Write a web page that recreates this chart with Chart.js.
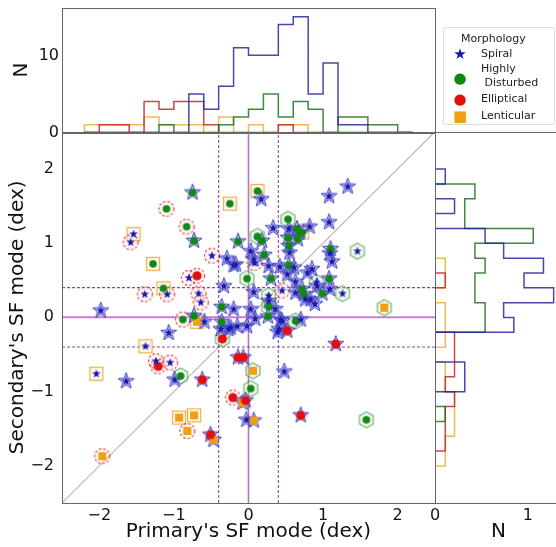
<!DOCTYPE html>
<html>
<head>
<meta charset="utf-8">
<script src="https://cdn.jsdelivr.net/npm/chart.js@4.4.1/dist/chart.umd.min.js"></script>
<style>
  html, body { margin: 0; padding: 0; width: 556px; height: 547px; overflow: hidden; background: #fff; }
  body { position: relative; font-family: "DejaVu Sans", sans-serif; }
  canvas { position: absolute; }
  #legend { position: absolute; left: 443px; top: 27px; width: 110px; height: 96px; border: 1px solid #ddd;
            border-radius: 3px; background: #fff; font-size: 11px; line-height: 14px; color: #222; }
  #legend div { position: absolute; white-space: nowrap; }
  .sym { left: 8px; width: 16px; text-align: center; font-size: 15px; line-height: 18px; }
</style>
</head>
<body>
<canvas id="topHist" width="446" height="150" style="left:0px;top:-5px"></canvas>
<canvas id="main" width="446" height="433" style="left:0px;top:114px"></canvas>
<canvas id="rightHist" width="135" height="425" style="left:427px;top:122px"></canvas>
<div id="legend">
  <div style="left:17px;top:4px">Morphology</div>
  <div class="sym" style="top:17px;color:#1a1ab0">★</div><div style="left:37px;top:19px">Spiral</div>
  <div class="sym" style="top:41px;color:#118811">●</div><div style="left:37px;top:34px">Highly</div>
  <div style="left:37px;top:48px">&nbsp;Disturbed</div>
  <div class="sym" style="top:62px;color:#e01010">●</div><div style="left:37px;top:64px">Elliptical</div>
  <div class="sym" style="top:79px;color:#f0a010">■</div><div style="left:37px;top:81px">Lenticular</div>
</div>
<script>
// primary / secondary star-formation modes (dex) and morphologies
// S = spiral, H = highly disturbed, E = elliptical, L = lenticular
const primarySF = [
  -0.75, -1.10, -0.25, -1.54, -1.58, -0.83, -0.73, -0.14, -1.28, -0.49,
  -0.29, -0.20, -0.02, -0.80, -0.69, -0.33, -1.14, -1.39, -1.09, -0.67,
  -0.64, -1.98, -0.36, -0.20, -0.73, -0.88, -0.69, -0.59, -0.36, 0.12,
  0.17, 1.33, 1.08, 0.53, 0.33, 0.54, 0.65, 0.72, 0.82, 1.08,
  0.12, 0.18, 0.53, 0.66, 0.54, 0.55, 1.10, 1.09, 1.12, 1.46,
  0.03, 0.21, 0.07, 0.08, 0.27, 0.42, 0.54, 0.61, 0.30, 0.63,
  0.79, 0.85, 0.91, 0.92, 1.08, 1.09, 1.26, 0.72, 0.74, 0.99,
  0.63, 0.45, 0.07, 0.27, 0.83, 0.89, 0.76, 0.27, 0.36, 0.26,
  0.43, 0.63, 0.70, 1.82, -0.02, 0.03, 0.09, 0.45, 0.52, 0.27,
  -0.24, -0.15, 0.41, 0.52, -1.07, -1.38, -1.24, -1.21, -1.05, -2.04,
  -1.64, -0.91, -0.99, -0.62, -0.35, -0.93, -0.73, -0.82, -0.51, -0.47,
  -1.96, -0.21, -0.04, -0.08, -0.14, -0.07, -0.03, 0.07, 0.03, 0.39,
  1.17, 0.48, 0.06, 0.70, 1.58, -0.37, -0.27, 0.68, -0.17
];
const secondarySF = [
  1.68, 1.46, 1.53, 1.12, 1.01, 1.22, 1.03, 1.02, 0.72, 0.83,
  0.79, 0.70, 0.52, 0.53, 0.56, 0.42, 0.39, 0.31, 0.31, 0.32,
  0.20, 0.09, 0.14, 0.11, 0.02, -0.03, -0.06, -0.06, -0.06, 1.70,
  1.59, 1.76, 1.63, 1.32, 1.20, 1.19, 1.19, 1.14, 1.22, 1.28,
  1.09, 1.03, 1.07, 1.05, 0.96, 0.87, 0.92, 0.86, 0.75, 0.89,
  0.89, 0.84, 0.78, 0.73, 0.69, 0.68, 0.70, 0.67, 0.52, 0.48,
  0.60, 0.65, 0.47, 0.42, 0.52, 0.38, 0.32, 0.38, 0.31, 0.32,
  0.33, 0.36, 0.34, 0.29, 0.24, 0.18, 0.24, 0.14, 0.11, 0.01,
  -0.03, -0.05, -0.03, 0.13, -0.12, 0.11, -0.02, -0.05, 0.58, 0.22,
  -0.14, -0.12, -0.16, -0.18, -0.21, -0.39, -0.59, -0.66, -0.61, -0.76,
  -0.86, -0.79, -0.84, -0.84, -0.29, -1.35, -1.32, -1.53, -1.58, -1.65,
  -1.87, -1.08, -1.12, -1.15, -0.54, -0.54, -1.38, -1.39, -0.96, -0.20,
  -0.36, -0.73, -0.72, -1.32, -1.38, -0.16, -0.16, 1.14, 0.71
];
const primaryMorph = [
  'S','E','L','L','E','E','S','S','L','E',
  'S','S','H','E','E','S','L','E','E','E',
  'E','S','S','S','S','E','L','S','S','L',
  'S','S','S','H','S','S','S','L','S','S',
  'H','S','S','S','S','S','S','S','S','H',
  'S','S','S','E','S','S','S','S','S','S',
  'S','S','H','S','S','S','H','S','S','S',
  'S','E','S','H','S','S','S','H','S','S',
  'S','H','S','H','S','S','S','S','S','S',
  'S','S','S','S','S','L','E','E','E','L',
  'S','H','S','S','H','L','L','E','S','S',
  'E','E','S','S','S','S','S','S','H','S',
  'S','S','H','S','H','S','S','S','S'
];
const secondaryMorph = [
  'H','H','H','S','S','H','H','H','H','S',
  'S','S','H','S','E','S','H','S','S','S',
  'S','S','H','S','H','H','L','S','H','H',
  'S','S','S','H','S','S','H','H','S','S',
  'H','H','H','H','H','S','H','S','S','S',
  'S','H','S','S','S','S','H','S','H','S',
  'S','S','S','S','H','S','S','H','H','H',
  'S','S','S','S','S','S','S','H','S','H',
  'S','H','S','L','S','S','S','S','S','S',
  'S','S','S','E','S','S','S','E','S','S',
  'S','H','S','E','E','L','L','L','E','L',
  'L','E','E','L','E','E','S','L','H','S',
  'E','S','L','E','H','S','S','H','S'
];

// reference lines (dex)
const refLines = [-0.4, 0, 0.4];
const axisRange = [-2.5, 2.5];
const sfTicks = [-2, -1, 0, 1, 2];

// top histogram: primary SF mode, counts per 0.2 dex bin
const topEdges = [-2.2, -2.0, -1.8, -1.6, -1.4, -1.2, -1.0, -0.8, -0.6, -0.4, -0.2, 0.0,
                  0.2, 0.4, 0.6, 0.8, 1.0, 1.2, 1.4, 1.6, 1.8, 2.0, 2.2];
const topSpiral     = [0, 0, 0, 0, 0, 0, 0, 5, 3, 6, 11, 10, 10, 14, 15, 5, 9, 1, 1, 0, 0, 0];
const topDisturbed  = [0, 0, 0, 0, 0, 1, 0, 0, 0, 1, 2, 3, 5, 2, 4, 3, 0, 2, 2, 1, 1, 0];
const topElliptical = [0, 1, 1, 0, 4, 3, 4, 4, 1, 0, 0, 0, 0, 1, 0, 0, 0, 0, 0, 0, 0, 0];
const topLenticular = [1, 1, 1, 1, 2, 1, 1, 1, 0, 2, 0, 1, 0, 1, 1, 0, 0, 0, 0, 0, 0, 0];
const topTicks = [0, 10];

// right histogram: secondary SF mode, normalised N per 0.2 dex bin
const rightEdges = [-2.0, -1.8, -1.6, -1.4, -1.2, -1.0, -0.8, -0.6, -0.4, -0.2, 0.0,
                    0.2, 0.4, 0.6, 0.8, 1.0, 1.2, 1.4, 1.6, 1.8, 2.0];
const rightSpiral     = [0, 0, 0, 0, 0, 0.32, 0.32, 0, 0, 0.85, 0.74, 1.28, 0.96, 1.17, 0.74, 0.54, 0, 0.21, 0, 0.11];
const rightDisturbed  = [0, 0, 0, 0.11, 0, 0, 0, 0, 0, 0.54, 0.54, 0.43, 0.43, 0.54, 0.43, 1.06, 0.32, 0.32, 0.43, 0];
const rightElliptical = [0, 0.11, 0.11, 0.11, 0.21, 0.11, 0.21, 0.21, 0.21, 0, 0, 0, 0.11, 0, 0, 0, 0, 0, 0, 0];
const rightLenticular = [0.11, 0.11, 0.21, 0.21, 0.21, 0.11, 0.11, 0, 0.11, 0.11, 0.11, 0, 0.11, 0.11, 0, 0, 0, 0, 0, 0];
const rightTicks = [0, 1];

const histColors = {
  S: 'rgba(40,40,150,0.85)',
  H: 'rgba(30,115,30,0.85)',
  E: 'rgba(195,40,40,0.85)',
  L: 'rgba(235,175,50,0.85)'
};

const FONT = '"DejaVu Sans", sans-serif';
Chart.defaults.font.family = FONT;
Chart.defaults.color = '#111';

// ---- marker images ----
function marker(size, draw) {
  const c = document.createElement('canvas');
  c.width = size; c.height = size;
  const g = c.getContext('2d');
  g.translate(size / 2, size / 2);
  draw(g);
  return c;
}
function starPath(g, R, r) {
  g.beginPath();
  for (let i = 0; i < 10; i++) {
    const rad = i % 2 ? r : R;
    const a = -Math.PI / 2 + i * Math.PI / 5;
    g.lineTo(rad * Math.cos(a), rad * Math.sin(a));
  }
  g.closePath();
}
function hexPath(g, R) {
  g.beginPath();
  for (let i = 0; i < 6; i++) {
    const a = -Math.PI / 2 + i * Math.PI / 3;
    g.lineTo(R * Math.cos(a), R * Math.sin(a));
  }
  g.closePath();
}

const outerMarkers = {
  S: marker(20, g => { starPath(g, 8.5, 3.6); g.fillStyle = 'rgba(120,120,235,0.55)'; g.fill();
                       g.strokeStyle = 'rgba(60,60,190,0.9)'; g.lineWidth = 1; g.stroke(); }),
  H: marker(20, g => { hexPath(g, 8); g.fillStyle = 'rgba(205,235,205,0.35)'; g.fill();
                       g.strokeStyle = 'rgba(60,150,60,0.65)'; g.lineWidth = 1.3; g.stroke(); }),
  E: marker(20, g => { g.beginPath(); g.arc(0, 0, 7.5, 0, Math.PI * 2); g.fillStyle = 'rgba(255,215,215,0.3)'; g.fill();
                       g.setLineDash([2.5, 2]); g.strokeStyle = 'rgba(210,50,50,0.85)'; g.lineWidth = 1.2; g.stroke(); }),
  L: marker(18, g => { g.fillStyle = 'rgba(255,240,210,0.35)'; g.fillRect(-6.5, -6.5, 13, 13);
                       g.strokeStyle = 'rgba(235,170,60,0.9)'; g.lineWidth = 1.3; g.strokeRect(-6.5, -6.5, 13, 13); })
};
const innerMarkers = {
  S: marker(12, g => { starPath(g, 4.5, 1.9); g.fillStyle = '#1a1aa8'; g.fill(); }),
  H: marker(10, g => { g.beginPath(); g.arc(0, 0, 3.8, 0, Math.PI * 2); g.fillStyle = '#118811'; g.fill(); }),
  E: marker(12, g => { g.beginPath(); g.arc(0, 0, 4.6, 0, Math.PI * 2); g.fillStyle = '#e01010'; g.fill(); }),
  L: marker(10, g => { g.fillStyle = '#f0a010'; g.fillRect(-4, -4, 8, 8); })
};

// ---- helpers ----
const minus = v => (v < 0 ? '\u2212' + Math.abs(v) : String(v));
const fixTicks = vals => s => { s.ticks = vals.map(v => ({ value: v })); };

function stepPoints(edges, counts, horizontal) {
  const p = (e, c) => (horizontal ? { x: c, y: e } : { x: e, y: c });
  const pts = [p(edges[0], 0)];
  counts.forEach((c, i) => { pts.push(p(edges[i], c)); pts.push(p(edges[i + 1], c)); });
  pts.push(p(edges[edges.length - 1], 0));
  return pts;
}

const framePlugin = {
  id: 'frame',
  afterDatasetsDraw(chart) {
    const { ctx, chartArea: a } = chart;
    ctx.save();
    ctx.strokeStyle = '#666';
    ctx.lineWidth = 1;
    ctx.strokeRect(Math.round(a.left) + 0.5, Math.round(a.top) + 0.5,
                   Math.round(a.right - a.left), Math.round(a.bottom - a.top));
    ctx.restore();
  }
};

const noGrid = { display: false, drawTicks: false };

// ---- main scatter ----
const types = ['S', 'H', 'E', 'L'];
const pts = primarySF.map((x, i) => ({ x: x, y: secondarySF[i], p: primaryMorph[i], s: secondaryMorph[i] }));

const mainSets = [];
types.forEach(t => mainSets.push({
  data: pts.filter(d => d.s === t).map(d => ({ x: d.x, y: d.y })),
  pointStyle: innerMarkers[t], pointRadius: 5, order: 1
}));
types.forEach(t => mainSets.push({
  data: pts.filter(d => d.p === t).map(d => ({ x: d.x, y: d.y })),
  pointStyle: outerMarkers[t], pointRadius: 8, order: 2
}));
refLines.forEach(v => {
  const solid = v === 0;
  mainSets.push({
    data: [{ x: v, y: axisRange[0] }, { x: v, y: axisRange[1] }],
    showLine: true, pointRadius: 0, order: 3,
    borderColor: solid ? 'rgba(176,100,196,0.9)' : 'rgba(130,50,150,0.9)',
    borderWidth: solid ? 1.6 : 1.1, borderDash: solid ? [] : [3, 2]
  });
  mainSets.push({
    data: [{ x: axisRange[0], y: v }, { x: axisRange[1], y: v }],
    showLine: true, pointRadius: 0, order: 3,
    borderColor: solid ? 'rgba(196,110,210,0.9)' : 'rgba(130,50,150,0.9)',
    borderWidth: solid ? 2 : 1.1, borderDash: solid ? [] : [3, 2]
  });
});
mainSets.push({
  data: [{ x: axisRange[0], y: axisRange[0] }, { x: axisRange[1], y: axisRange[1] }],
  showLine: true, pointRadius: 0, order: 4,
  borderColor: 'rgba(120,120,120,0.55)', borderWidth: 1.1
});

new Chart(document.getElementById('main'), {
  type: 'scatter',
  data: { datasets: mainSets },
  options: {
    responsive: false,
    animation: false,
    layout: { padding: { left: 0, top: 0, right: 11, bottom: 0 } },
    plugins: { legend: { display: false }, tooltip: { enabled: false } },
    scales: {
      x: {
        min: axisRange[0], max: axisRange[1],
        grid: noGrid, border: { display: false },
        afterBuildTicks: fixTicks(sfTicks),
        afterFit: s => { s.height = 44; },
        ticks: { font: { size: 16 }, padding: 3, maxRotation: 0, callback: minus },
        title: { display: true, text: "Primary's SF mode (dex)", font: { size: 20 }, padding: { top: 0, bottom: 3 } }
      },
      y: {
        min: axisRange[0], max: axisRange[1],
        grid: noGrid, border: { display: false },
        afterBuildTicks: fixTicks(sfTicks),
        afterFit: s => { s.width = 62; },
        ticks: { font: { size: 16 }, padding: 8, callback: minus },
        title: { display: true, text: "Secondary's SF mode (dex)", font: { size: 20 }, padding: { top: 6, bottom: 0 } }
      }
    }
  },
  plugins: [framePlugin]
});

// ---- top histogram ----
const histSet = (edges, counts, t, horizontal) => ({
  data: stepPoints(edges, counts, horizontal),
  showLine: true, pointRadius: 0, borderWidth: 1.5, borderColor: histColors[t]
});

new Chart(document.getElementById('topHist'), {
  type: 'scatter',
  data: { datasets: [
    histSet(topEdges, topSpiral, 'S'),
    histSet(topEdges, topDisturbed, 'H'),
    histSet(topEdges, topElliptical, 'E'),
    histSet(topEdges, topLenticular, 'L')
  ] },
  options: {
    responsive: false,
    animation: false,
    layout: { padding: { left: 0, top: 0, right: 11, bottom: 0 } },
    plugins: { legend: { display: false }, tooltip: { enabled: false } },
    scales: {
      x: { display: false, min: axisRange[0], max: axisRange[1] },
      y: {
        min: 0, max: 16.2,
        grid: noGrid, border: { display: false },
        afterBuildTicks: fixTicks(topTicks),
        afterFit: s => { s.width = 62; },
        ticks: { font: { size: 16 }, padding: 3 },
        title: { display: true, text: 'N', font: { size: 20 }, padding: { top: 10, bottom: 0 } }
      }
    }
  },
  plugins: [framePlugin]
});

// ---- right histogram ----
new Chart(document.getElementById('rightHist'), {
  type: 'scatter',
  data: { datasets: [
    histSet(rightEdges, rightSpiral, 'S', true),
    histSet(rightEdges, rightDisturbed, 'H', true),
    histSet(rightEdges, rightElliptical, 'E', true),
    histSet(rightEdges, rightLenticular, 'L', true)
  ] },
  options: {
    responsive: false,
    animation: false,
    layout: { padding: { left: 0, top: 10, right: 0, bottom: 0 } },
    plugins: { legend: { display: false }, tooltip: { enabled: false } },
    scales: {
      x: {
        min: 0, max: 1.37,
        grid: noGrid, border: { display: false },
        afterBuildTicks: fixTicks(rightTicks),
        afterFit: s => { s.height = 44; },
        ticks: { font: { size: 16 }, padding: 3, maxRotation: 0 },
        title: { display: true, text: 'N', font: { size: 20 }, padding: { top: 0, bottom: 3 } }
      },
      y: { display: false, min: axisRange[0], max: axisRange[1] }
    }
  },
  plugins: [framePlugin]
});
</script>
</body>
</html>
